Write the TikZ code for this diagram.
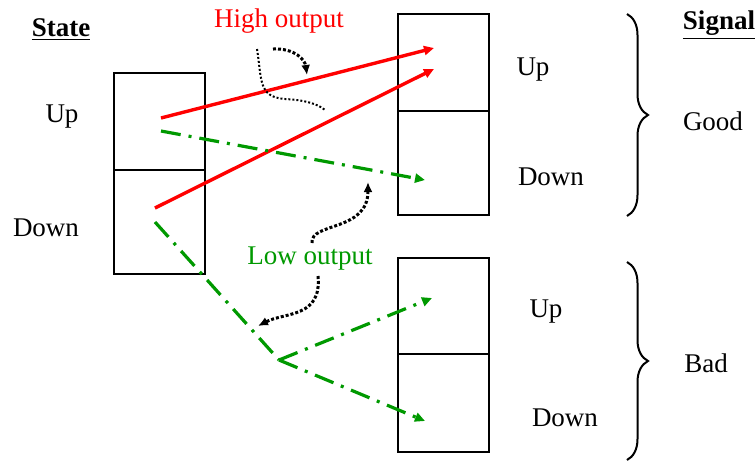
\documentclass[tikz,border=0pt]{standalone}
\usepackage{fontspec}
\setmainfont{Liberation Serif}
\usetikzlibrary{arrows.meta,decorations.pathreplacing,positioning}
\definecolor{lowgreen}{RGB}{0,153,0}

\tikzset{
  cell/.style={draw,line width=0.6pt,minimum width=45.5pt,inner sep=0pt,outer sep=0pt},
  lbl/.style={font=\fontsize{13.5}{16}\selectfont},
  hiarrow/.style={red,line width=1.7pt,-{Triangle[length=5pt,width=4.5pt]}},
  loline/.style={lowgreen,line width=1.6pt,dash pattern=on 10pt off 4pt on 1.5pt off 4pt},
  loarrow/.style={loline,-{Triangle[length=5pt,width=4.5pt]}},
  hint/.style={line width=1.5pt,dash pattern=on 1.5pt off 1pt,-{Latex[length=5pt,width=4.5pt]}},
}

\begin{document}
\begin{tikzpicture}[x=0.5pt,y=-0.5pt]
    \useasboundingbox (0,0) rectangle (756,462);

    % State boxes
    \node[cell,minimum height=48.5pt] (sUp) at (159.5,121.5) {};
    \node[cell,minimum height=52pt,below=0pt of sUp] (sDown) {};
    % Signal boxes
    \node[cell,minimum height=48.5pt] (gUp) at (443.5,62.5) {};
    \node[cell,minimum height=52pt,below=0pt of gUp] (gDown) {};
    \node[cell,minimum height=48pt] (bUp) at (443.5,306) {};
    \node[cell,minimum height=49pt,below=0pt of bUp] (bDown) {};

    % Labels
    \node[lbl] (stTitle) at (61,30) {\underline{\textbf{State}}};
    \node[lbl] (stUp) at (62,117) {Up};
    \node[lbl] (stDown) at (46,228) {Down};
    \node[lbl] (sgTitle) at (719,25) {\underline{\textbf{Signal}}};
    \node[lbl] (gUpLbl) at (533,70) {Up};
    \node[lbl] (gDownLbl) at (551,177) {Down};
    \node[lbl] (bUpLbl) at (546,312) {Up};
    \node[lbl] (bDownLbl) at (565,418) {Down};
    \node[lbl] (good) at (713,121) {Good};
    \node[lbl] (bad) at (706,363) {Bad};
    \node[lbl,red] (hiLbl) at (279,21) {High output};
    \node[lbl,lowgreen] (loLbl) at (310,259) {Low output};

    % Braces
    \draw[decorate,decoration={brace,amplitude=10.5pt},line width=1pt]
      (627,14) -- (627,216);
    \draw[decorate,decoration={brace,amplitude=10.5pt},line width=1pt]
      (627,262) -- (627,460);

    % Arrow ends
    \coordinate (r1a) at (161,118);
    \coordinate (r1b) at (434,48);
    \coordinate (r2a) at (155,208);
    \coordinate (r2b) at (434,69);
    \coordinate (g1a) at (161,131);
    \coordinate (g1b) at (425,180);
    \coordinate (g2a) at (155,222);
    \coordinate (fork) at (279,360);
    \coordinate (g3b) at (432,298);
    \coordinate (g4b) at (425,421);

    % High output (red)
    \draw[hiarrow] (r1a) -- (r1b);
    \draw[hiarrow] (r2a) -- (r2b);
    % Low output (green)
    \draw[loarrow] (g1a) -- (g1b);
    \draw[loline] (g2a) -- (fork);
    \draw[loarrow] (fork) -- (g3b);
    \draw[loarrow] (fork) -- (g4b);

    % Dotted hints
    \draw[hint] (273,49) .. controls (295,48) and (305,60) .. (307,75);
    \draw[line width=1pt,dash pattern=on 1pt off 1pt]
      (257,49) .. controls (262,80) and (258,97) .. (285,99)
      .. controls (305,100) and (318,104) .. (325,110);
    \draw[hint] (312,243) .. controls (310,222) and (368,232) .. (368,182);
    \draw[hint] (318,276) .. controls (322,318) and (285,312) .. (258,326);
\end{tikzpicture}
\end{document}
